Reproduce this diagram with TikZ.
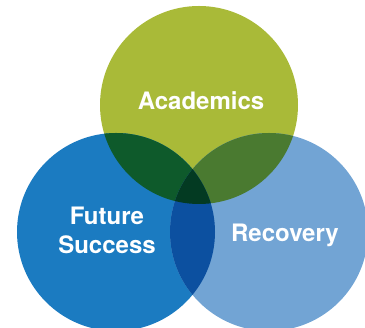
\documentclass[tikz,border=0pt]{standalone}
\usepackage{fontspec}
\setmainfont{TeX Gyre Heros}
\definecolor{cA}{HTML}{A9BA38}
\definecolor{cF}{HTML}{1B7BC1}
\definecolor{cR}{HTML}{72A4D4}
\definecolor{cAF}{HTML}{0E5A2B}
\definecolor{cAR}{HTML}{4A7A30}
\definecolor{cFR}{HTML}{0C50A0}
\definecolor{cAFR}{HTML}{033A22}
\tikzset{lbl/.style={text=white,font=\fontsize{24}{29}\selectfont\bfseries,align=center}}
\begin{document}
\begin{tikzpicture}[x=1pt,y=1pt]
\useasboundingbox (0,0) rectangle (365,328);
\clip (0,0) rectangle (365,328);
\def\rr{99}
\coordinate (A) at (199,223);
\coordinate (F) at (116,96);
\coordinate (R) at (269,96);
\fill[cA] (A) circle (\rr);
\fill[cF] (F) circle (\rr);
\fill[cR] (R) circle (\rr);
\begin{scope}
\clip (A) circle (\rr);
\fill[cAF] (F) circle (\rr);
\fill[cAR] (R) circle (\rr);
\end{scope}
\begin{scope}
\clip (F) circle (\rr);
\fill[cFR] (R) circle (\rr);
\clip (R) circle (\rr);
\fill[cAFR] (A) circle (\rr);
\end{scope}
\node[lbl] (ta) at (201,227) {Academics};
\node[lbl] (tf) at (107,98) {Future\\Success};
\node[lbl] (tr) at (285,93) {Recovery};
\end{tikzpicture}
\end{document}
